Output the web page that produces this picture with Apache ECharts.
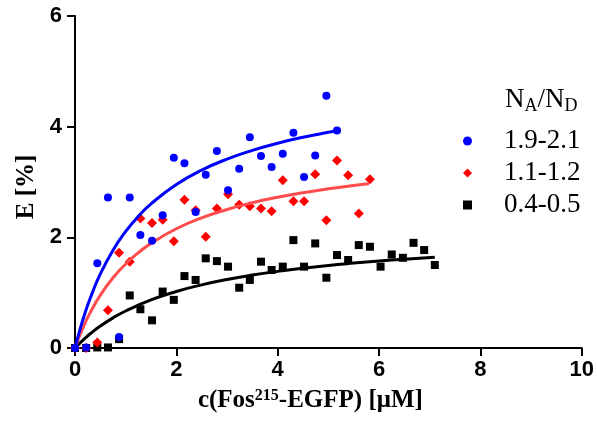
<!DOCTYPE html>
<html>
<head>
<meta charset="utf-8">
<script src="https://cdn.jsdelivr.net/npm/echarts@6/dist/echarts.min.js"></script>
<style>html,body{margin:0;padding:0;background:#fff}#c{width:597px;height:436px}</style>
</head>
<body>
<div id="c"></div>
<script>
// Concentration grid (µM) shared by the measured points
const conc = [0, 0.22, 0.44, 0.65, 0.87, 1.08, 1.29, 1.52, 1.73, 1.95, 2.16, 2.38, 2.58, 2.80, 3.02, 3.24, 3.45, 3.67, 3.88, 4.10, 4.31, 4.52, 4.74, 4.96, 5.17, 5.39, 5.60, 5.82, 6.03, 6.25, 6.47, 6.68, 6.89, 7.10];

// Measured FRET efficiency E [%]
const eHigh = [0, 0.01, 1.53, 2.72, 0.20, 2.72, 2.04, 1.94, 2.40, 3.44, 3.34, 2.46, 3.13, 3.56, 2.85, 3.24, 3.81, 3.47, 3.27, 3.51, 3.89, 3.09, 3.48, 4.56, 3.93];
const eMid = [0, 0, 0.10, 0.68, 1.72, 1.56, 2.34, 2.26, 2.32, 1.93, 2.68, 2.49, 2.01, 2.52, 2.78, 2.59, 2.56, 2.52, 2.47, 3.03, 2.65, 2.65, 3.14, 2.31, 3.39, 3.12, 2.43, 3.05];
const eLow = [0, 0, 0.01, 0.01, 0.16, 0.95, 0.70, 0.50, 1.02, 0.87, 1.30, 1.23, 1.62, 1.57, 1.47, 1.09, 1.23, 1.56, 1.41, 1.47, 1.95, 1.47, 1.89, 1.27, 1.68, 1.59, 1.86, 1.83, 1.47, 1.69, 1.63, 1.90, 1.77, 1.50];

// Fit curves
const fitHighX = [0, 0.1, 0.2, 0.3, 0.5, 0.75, 1, 1.25, 1.5, 2, 2.5, 3, 3.5, 4, 4.5, 5, 5.17];
const fitHighY = [0, 0.341, 0.639, 0.900, 1.338, 1.768, 2.106, 2.380, 2.605, 2.955, 3.214, 3.414, 3.572, 3.701, 3.808, 3.898, 3.925];
const fitMidX = [0, 0.1, 0.2, 0.3, 0.5, 0.75, 1, 1.25, 1.5, 2, 2.5, 3, 3.5, 4, 4.5, 5, 5.5, 5.8];
const fitMidY = [0, 0.241, 0.452, 0.639, 0.955, 1.269, 1.519, 1.722, 1.891, 2.155, 2.352, 2.504, 2.626, 2.725, 2.807, 2.877, 2.937, 2.968];
const fitLowX = [0, 0.1, 0.2, 0.3, 0.5, 0.75, 1, 1.5, 2, 2.5, 3, 3.5, 4, 4.5, 5, 5.5, 6, 6.5, 7.1];
const fitLowY = [0, 0.093, 0.178, 0.257, 0.396, 0.544, 0.669, 0.869, 1.021, 1.141, 1.238, 1.318, 1.385, 1.442, 1.492, 1.534, 1.572, 1.605, 1.641];

const seriesNames = ['1.9-2.1', '1.1-1.2', '0.4-0.5'];
const legendIcons = ['circle', 'diamond', 'rect'];
const xTicks = [0, 2, 4, 6, 8, 10];
const yTicks = [0, 2, 4, 6];

const pair = (xs, ys) => ys.map((v, i) => [xs[i], v]);

const chart = echarts.init(document.getElementById('c'), null, {renderer: 'canvas'});
const serif = '"Liberation Serif", "Times New Roman", serif';
const sans = '"Liberation Sans", Arial, sans-serif';

chart.setOption({
  animation: false,
  backgroundColor: '#fff',
  grid: {left: 75, right: 15, top: 16, bottom: 88},
  title: {
    text: '{n|N}{s|A}{n|/N}{s|D}',
    left: 500, top: 80,
    textStyle: {
      fontWeight: 'normal',
      rich: {
        n: {fontFamily: serif, fontWeight: 'normal', fontSize: 27, color: '#000'},
        s: {fontFamily: serif, fontWeight: 'normal', fontSize: 18, color: '#000', padding: [12, 0, 0, 0]}
      }
    }
  },
  legend: {
    data: seriesNames.map((n, i) => ({name: n, icon: legendIcons[i]})),
    orient: 'vertical',
    left: 458, top: 120,
    itemWidth: 9, itemHeight: 9,
    itemGap: 0,
    textStyle: {fontFamily: serif, fontSize: 27, color: '#000', lineHeight: 32, padding: [0, 0, 0, 27]}
  },
  xAxis: {
    type: 'value', min: xTicks[0], max: xTicks[xTicks.length - 1], interval: 2,
    axisLine: {lineStyle: {color: '#000', width: 2}},
    axisTick: {length: 8, lineStyle: {color: '#000', width: 2}},
    axisLabel: {fontFamily: sans, fontWeight: 'bold', fontSize: 22, color: '#000', margin: 11},
    splitLine: {show: false},
    name: '{b|c(Fos}{sup|215}{b|-EGFP) [μM]}',
    nameLocation: 'middle', nameGap: 40,
    nameTextStyle: {
      padding: [0, 36, 0, 0],
      rich: {
        b: {fontFamily: serif, fontWeight: 'bold', fontSize: 25, color: '#000'},
        sup: {fontFamily: serif, fontWeight: 'bold', fontSize: 16, color: '#000', padding: [0, 0, 10, 0]}
      }
    }
  },
  yAxis: {
    type: 'value', min: yTicks[0], max: yTicks[yTicks.length - 1], interval: 2,
    axisLine: {show: true, lineStyle: {color: '#000', width: 2}},
    axisTick: {show: true, length: 8, lineStyle: {color: '#000', width: 2}},
    axisLabel: {fontFamily: sans, fontWeight: 'bold', fontSize: 22, color: '#000', margin: 13},
    splitLine: {show: false},
    name: 'E [%]',
    nameLocation: 'middle', nameGap: 30, nameRotate: 90,
    nameTextStyle: {fontFamily: serif, fontWeight: 'bold', fontSize: 25, color: '#000', padding: [0, 10, 0, 0]}
  },
  series: [
    {name: seriesNames[2], type: 'scatter', symbol: 'rect', symbolSize: 8, clip: false,
     itemStyle: {color: '#000', opacity: 1}, data: pair(conc, eLow), z: 2},
    {type: 'line', showSymbol: false, smooth: true, clip: false, lineStyle: {color: '#000', width: 3},
     data: pair(fitLowX, fitLowY), z: 3},
    {name: seriesNames[1], type: 'scatter', symbol: 'diamond', symbolSize: 10, clip: false,
     itemStyle: {color: '#ff0000', opacity: 1}, data: pair(conc, eMid), z: 4},
    {type: 'line', showSymbol: false, smooth: true, clip: false, lineStyle: {color: '#ff4d4d', width: 3},
     data: pair(fitMidX, fitMidY), z: 5},
    {name: seriesNames[0], type: 'scatter', symbol: 'circle', symbolSize: 8, clip: false,
     itemStyle: {color: '#0000ff', opacity: 1}, data: pair(conc, eHigh), z: 6},
    {type: 'line', showSymbol: false, smooth: true, clip: false, lineStyle: {color: '#0000ff', width: 3},
     data: pair(fitHighX, fitHighY), z: 7}
  ]
});
</script>
</body>
</html>
